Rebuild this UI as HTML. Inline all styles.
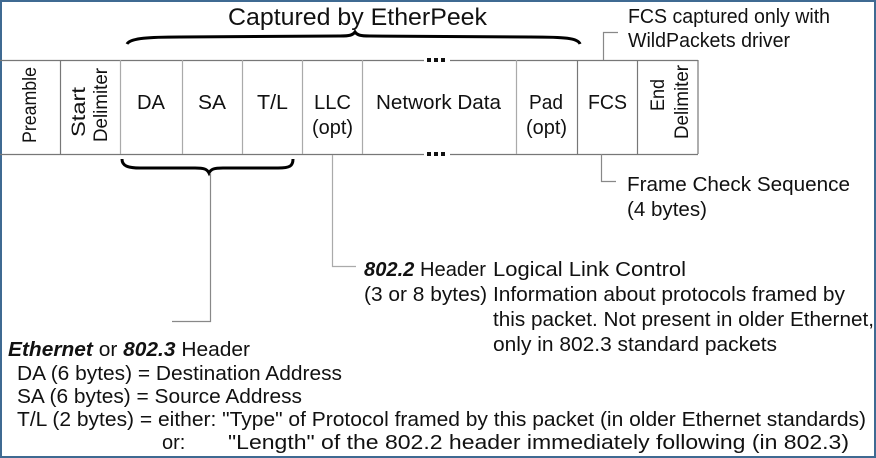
<!DOCTYPE html>
<html><head><meta charset="utf-8"><style>
html,body{margin:0;padding:0;background:#fff}
svg{display:block}
text{font-family:"Liberation Sans",Arial,sans-serif;fill:#111}
</style></head><body>
<svg width="876" height="458" viewBox="0 0 876 458" xmlns="http://www.w3.org/2000/svg">
<rect x="1" y="1" width="874" height="456" fill="#fff" stroke="#3f6a92" stroke-width="2"/>
<text x="228" y="25" font-size="24" textLength="259" lengthAdjust="spacingAndGlyphs">Captured by EtherPeek</text>
<path d="M127,44 C130,38 150,37 180,37 L340,36 C350,36 353,35 355,32 C357,35 360,36 370,36 L530,37 C565,37 578,38 580,44" fill="none" stroke="#000" stroke-width="3"/>
<g stroke="#777" stroke-width="1.2" fill="none">
<line x1="0" y1="60.5" x2="424" y2="60.5"/><line x1="450" y1="60.5" x2="698" y2="60.5"/>
<line x1="0" y1="154.5" x2="424" y2="154.5"/><line x1="450" y1="154.5" x2="698" y2="154.5"/>
<line x1="60.5" y1="60" x2="60.5" y2="154"/>
<line x1="577.5" y1="60" x2="577.5" y2="154"/>
<line x1="637.5" y1="60" x2="637.5" y2="154"/>
<line x1="698" y1="60" x2="698" y2="154"/>
</g>
<g stroke="#aaa" stroke-width="1.2">
<line x1="120.5" y1="60" x2="120.5" y2="154"/>
<line x1="182.5" y1="60" x2="182.5" y2="154"/>
<line x1="242.5" y1="60" x2="242.5" y2="154"/>
<line x1="302.5" y1="60" x2="302.5" y2="154"/>
<line x1="362.5" y1="60" x2="362.5" y2="154"/>
<line x1="516.5" y1="60" x2="516.5" y2="154"/>
</g>
<g fill="#111">
<rect x="427" y="58" width="4" height="4"/><rect x="434" y="58" width="4" height="4"/><rect x="441" y="58" width="4" height="4"/>
<rect x="427" y="152" width="4" height="4"/><rect x="434" y="152" width="4" height="4"/><rect x="441" y="152" width="4" height="4"/>
</g>
<g font-size="19">
<text transform="translate(36,105) rotate(-90)" text-anchor="middle" textLength="76" lengthAdjust="spacingAndGlyphs">Preamble</text>
<text transform="translate(85,112) rotate(-90)" text-anchor="middle" textLength="50" lengthAdjust="spacingAndGlyphs">Start</text>
<text transform="translate(107,105) rotate(-90)" text-anchor="middle" textLength="74" lengthAdjust="spacingAndGlyphs">Delimiter</text>
<text transform="translate(664,95) rotate(-90)" text-anchor="middle" textLength="32" lengthAdjust="spacingAndGlyphs">End</text>
<text transform="translate(688,102) rotate(-90)" text-anchor="middle" textLength="74" lengthAdjust="spacingAndGlyphs">Delimiter</text>
</g>
<g font-size="20">
<text x="137" y="109" textLength="28" lengthAdjust="spacingAndGlyphs">DA</text>
<text x="198" y="109" textLength="28" lengthAdjust="spacingAndGlyphs">SA</text>
<text x="257" y="109" textLength="31" lengthAdjust="spacingAndGlyphs">T/L</text>
<text x="314" y="109" textLength="37" lengthAdjust="spacingAndGlyphs">LLC</text>
<text x="312" y="134" textLength="41" lengthAdjust="spacingAndGlyphs">(opt)</text>
<text x="376" y="109" textLength="125" lengthAdjust="spacingAndGlyphs">Network Data</text>
<text x="529" y="109" textLength="34" lengthAdjust="spacingAndGlyphs">Pad</text>
<text x="526" y="134" textLength="41" lengthAdjust="spacingAndGlyphs">(opt)</text>
<text x="588" y="109" textLength="39" lengthAdjust="spacingAndGlyphs">FCS</text>
<text x="628" y="23" textLength="202" lengthAdjust="spacingAndGlyphs">FCS captured only with</text>
<text x="628" y="47" textLength="162" lengthAdjust="spacingAndGlyphs">WildPackets driver</text>
<text x="627" y="191" textLength="223" lengthAdjust="spacingAndGlyphs">Frame Check Sequence</text>
<text x="627" y="216" textLength="80" lengthAdjust="spacingAndGlyphs">(4 bytes)</text>
</g>
<path d="M122,159 C122,166 128,168 140,168 L195,168 C204,168 207,169 209,173 C211,169 214,168 223,168 L278,168 C290,168 293,166 293,159" fill="none" stroke="#000" stroke-width="3"/>
<g stroke="#888" stroke-width="1.2" fill="none">
<polyline points="603.5,60 603.5,32.5 618,32.5"/>
<polyline points="601.5,154 601.5,181.5 616,181.5"/>
<polyline points="210.5,173 210.5,321.5 172,321.5"/>
</g>
<polyline points="332.5,155 332.5,266.5 356,266.5" stroke="#aaa" stroke-width="1.2" fill="none"/>
<g font-size="20">
<text x="364" y="276" textLength="122" lengthAdjust="spacingAndGlyphs"><tspan font-weight="bold" font-style="italic">802.2</tspan> Header</text>
<text x="493" y="276" textLength="193" lengthAdjust="spacingAndGlyphs">Logical Link Control</text>
<text x="364" y="301" textLength="481" lengthAdjust="spacingAndGlyphs">(3 or 8 bytes) Information about protocols framed by</text>
<text x="493" y="326" textLength="381" lengthAdjust="spacingAndGlyphs">this packet. Not present in older Ethernet,</text>
<text x="493" y="351" textLength="284" lengthAdjust="spacingAndGlyphs">only in 802.3 standard packets</text>
<text x="8" y="356" textLength="242" lengthAdjust="spacingAndGlyphs"><tspan font-weight="bold" font-style="italic">Ethernet</tspan>  or <tspan font-weight="bold" font-style="italic">802.3</tspan> Header</text>
<text x="17" y="380" textLength="325" lengthAdjust="spacingAndGlyphs">DA (6 bytes) = Destination Address</text>
<text x="17" y="403" textLength="285" lengthAdjust="spacingAndGlyphs">SA (6 bytes) = Source Address</text>
<text x="17" y="426" textLength="849" lengthAdjust="spacingAndGlyphs">T/L (2 bytes) = either: "Type" of Protocol framed by this packet (in older Ethernet standards)</text>
<text x="162" y="449">or:</text>
<text x="228" y="449" textLength="621" lengthAdjust="spacingAndGlyphs">"Length" of the 802.2 header immediately following (in 802.3)</text>
</g>
</svg>
</body></html>
